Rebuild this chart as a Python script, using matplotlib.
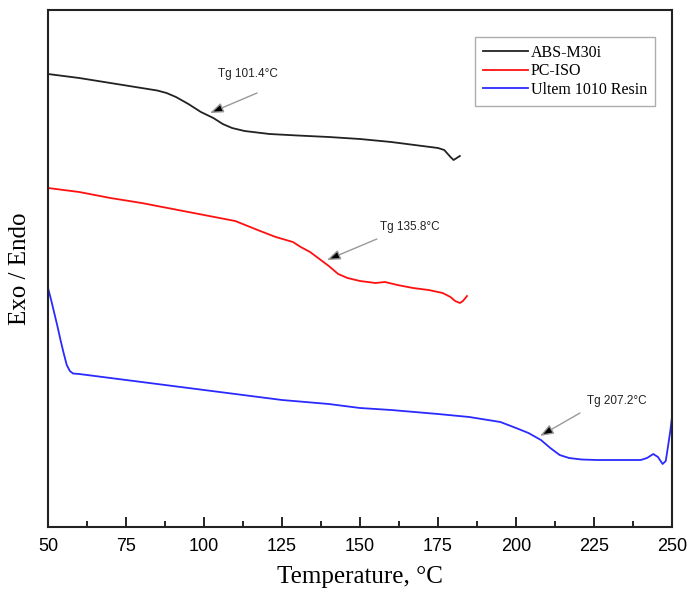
import matplotlib
matplotlib.use("Agg")
import matplotlib.pyplot as plt
from matplotlib.ticker import MultipleLocator

# DSC curves, heat flow in arbitrary units
abs_T = [50, 60, 70, 80, 85, 88, 91, 95, 99, 103, 106, 109, 113, 121, 130, 140,
         150, 160, 170, 175, 177, 179, 180, 181, 182]
abs_hf = [45.3, 44.9, 44.4, 43.9, 43.65, 43.4, 43.0, 42.3, 41.5, 40.9, 40.3, 39.9,
          39.6, 39.3, 39.15, 39.0, 38.8, 38.5, 38.1, 37.9, 37.7, 37.0, 36.7, 36.9, 37.1]

pc_T = [50, 60, 70, 80, 90, 100, 110, 118, 123, 128.5, 131, 134, 137, 140, 143,
        146, 150, 155, 158, 162, 167, 172, 176.5, 179, 180.5, 182, 183, 184.3]
pc_hf = [33.9, 33.5, 32.9, 32.4, 31.8, 31.2, 30.6, 29.6, 29.0, 28.5, 28.0, 27.5,
         26.8, 26.1, 25.3, 24.9, 24.6, 24.4, 24.5, 24.2, 23.9, 23.7, 23.4, 23.0,
         22.6, 22.4, 22.6, 23.1]

ult_T = [50, 51, 52, 53, 54, 55, 56, 57, 58, 60, 70, 80, 90, 100, 110, 125, 140,
         150, 160, 175, 185, 195, 200, 204, 208, 211, 214, 217, 221, 226, 240, 242,
         244, 245.5, 247, 248, 248.7, 249.5, 250]
ult_hf = [23.9, 22.7, 21.4, 20.1, 18.7, 17.4, 16.2, 15.6, 15.35, 15.3, 14.9, 14.5,
          14.1, 13.7, 13.3, 12.7, 12.3, 11.9, 11.7, 11.3, 11.0, 10.5, 9.9, 9.4,
          8.7, 7.9, 7.2, 6.9, 6.75, 6.7, 6.7, 6.9, 7.3, 7.0, 6.3, 6.6, 8.0, 9.7, 11.0]

# Tg labels: text position, arrow tail, arrow tip
tg_labels = ["Tg 101.4°C", "Tg 135.8°C", "Tg 207.2°C"]
tg_text = [(114, 45.3), (166, 30.0), (232.4, 12.6)]
tg_tail = [(117, 43.4), (155.4, 28.8), (220.5, 11.4)]
tg_tip = [(101.9, 41.4), (139.4, 26.7), (207.7, 9.1)]

fig = plt.figure(figsize=(6.89, 5.99), dpi=100)
ax = fig.add_axes([0.0697, 0.1202, 0.9056, 0.8631])

ax.plot(abs_T, abs_hf, color="#222222", lw=1.3, label="ABS-M30i")
ax.plot(pc_T, pc_hf, color="#ff1010", lw=1.3, label="PC-ISO")
ax.plot(ult_T, ult_hf, color="#2a2aff", lw=1.3, label="Ultem 1010 Resin")

for lab, txt, tail, tip in zip(tg_labels, tg_text, tg_tail, tg_tip):
    ax.text(txt[0], txt[1], lab, ha="center", va="center", fontsize=8.5,
            family="Liberation Sans", color="#222222")
    ax.annotate("", xy=tip, xytext=tail,
                arrowprops=dict(arrowstyle="-|>,head_length=0.8,head_width=0.3",
                                ec="#999999", fc="black", lw=1.0,
                                shrinkA=0, shrinkB=0))

ax.set_xlim(50, 250)
ax.set_ylim(0, 51.7)
ax.xaxis.set_major_locator(MultipleLocator(25))
ax.xaxis.set_minor_locator(MultipleLocator(12.5))
ax.tick_params(axis="x", which="major", direction="in", length=7, width=1.2,
               labelsize=13, pad=8)
ax.tick_params(axis="x", which="minor", direction="in", length=4, width=1.2)
ax.tick_params(axis="y", left=False, labelleft=False)
for lbl in ax.get_xticklabels():
    lbl.set_family("Liberation Sans")
for sp in ax.spines.values():
    sp.set_linewidth(1.5)
    sp.set_color("#222222")

ax.set_xlabel("Temperature, °C", family="Liberation Serif", fontsize=18, labelpad=8)
ax.set_ylabel("Exo / Endo", family="Liberation Serif", fontsize=18, labelpad=12)

leg = ax.legend(loc="upper right", bbox_to_anchor=(0.973, 0.948), fancybox=False,
                prop={"family": "Liberation Serif", "size": 11.5}, handlelength=2.8,
                handletextpad=0.2, labelspacing=0.15, borderpad=0.5, borderaxespad=0)
leg.get_frame().set_edgecolor("#999999")
leg.get_frame().set_linewidth(1.0)

plt.savefig("out.png", dpi=100)
